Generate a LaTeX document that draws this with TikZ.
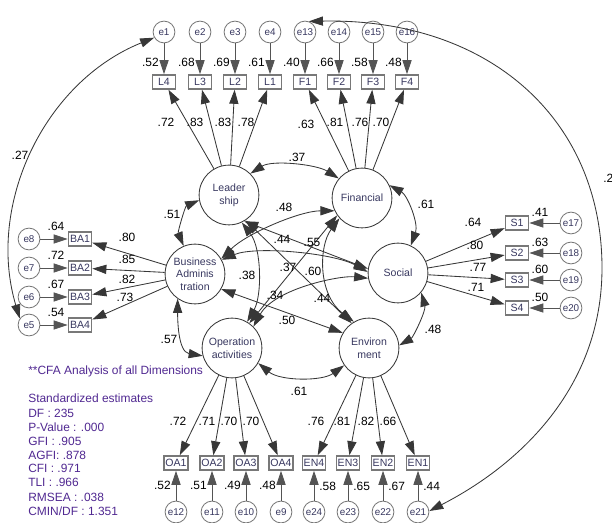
\documentclass[tikz,border=0pt]{standalone}
\usepackage{fontspec}
\setmainfont{Liberation Sans}
\usetikzlibrary{arrows.meta}

\definecolor{lnclr}{RGB}{55,55,55}
\definecolor{bxclr}{RGB}{120,120,120}
\definecolor{txclr}{RGB}{55,55,95}
\definecolor{lgclr}{RGB}{80,40,145}

\begin{document}
\begin{tikzpicture}[
        x=0.025cm, y=-0.025cm,
        >={Triangle[length=10pt,width=6.5pt]},
        lat/.style ={circle, draw=lnclr, line width=0.6pt, minimum size=42.5pt,
                     inner sep=0pt, align=center, text=txclr,
                     font=\fontsize{7.5}{9}\selectfont},
        obs/.style ={draw=bxclr, line width=1pt, minimum width=16.5pt,
                     minimum height=10pt, inner sep=1pt, text=txclr,
                     font=\fontsize{7.5}{9}\selectfont},
        err/.style ={circle, draw=bxclr, line width=0.6pt, minimum size=15.5pt,
                     inner sep=0pt, text=txclr, font=\fontsize{7}{8}\selectfont},
        num/.style ={inner sep=0pt, font=\fontsize{8.5}{10}\selectfont},
        ld/.style  ={->, draw=lnclr, line width=0.6pt},
        er/.style  ={->, draw=bxclr!70!black, line width=0.6pt},
        cv/.style  ={<->, draw=lnclr, line width=0.6pt},
        lgd/.style ={anchor=west, inner sep=0pt, text=lgclr,
                     font=\fontsize{8.5}{10}\selectfont},
    ]
    \useasboundingbox (0,0) rectangle (612,523);

    % ===================== Latent factors =====================
    \node[lat] (L)  at (229,195) {Leader\\ship};
    \node[lat] (F)  at (362,198) {Financial};
    \node[lat] (BA) at (195,274) {Business\\Adminis\\tration};
    \node[lat] (S)  at (398,273) {Social};
    \node[lat] (OA) at (232,348) {Operation\\activities};
    \node[lat] (EN) at (369,348) {Environ\\ment};

    % ===================== Top indicators =====================
    \foreach \b/\e/\x/\r in {L4/e1/164/.52, L3/e2/200/.68, L2/e3/235/.69, L1/e4/270/.61,
                             F1/e13/305/.40, F2/e14/339/.66, F3/e15/373/.58, F4/e16/407/.48}{
        \node[obs] (\b) at (\x,82) {\b};
        \node[err] (\e) at (\x,32) {\e};
        \node[num, anchor=east] (r\b) at (\x-5,62) {\r};
        \draw[er] (\e) -- (\b);
    }
    \foreach \b/\v/\lx/\ly in {L4/.72/166/122, L3/.83/195/122, L2/.83/223/122, L1/.78/246/122}{
        \draw[ld] (L) -- (\b);
        \node[num] (w\b) at (\lx,\ly) {\v};
    }
    \foreach \b/\v/\lx/\ly in {F1/.63/306/124, F2/.81/335/122, F3/.76/360/122, F4/.70/381/122}{
        \draw[ld] (F) -- (\b);
        \node[num] (w\b) at (\lx,\ly) {\v};
    }

    % ===================== Left indicators =====================
    \foreach \b/\e/\y/\r in {BA1/e8/239/.64, BA2/e7/268/.72, BA3/e6/297/.67, BA4/e5/325/.54}{
        \node[obs] (\b) at (80,\y) {\b};
        \node[err] (\e) at (29,\y) {\e};
        \node[num] (r\b) at (56,\y-13) {\r};
        \draw[er] (\e) -- (\b);
    }
    \foreach \b/\v/\lx/\ly in {BA1/.80/127/237, BA2/.85/127/259, BA3/.82/127/279, BA4/.73/125/297}{
        \draw[ld] (BA) -- (\b);
        \node[num] (w\b) at (\lx,\ly) {\v};
    }

    % ===================== Right indicators =====================
    \foreach \b/\e/\y/\r in {S1/e17/223/.41, S2/e18/253/.63, S3/e19/280/.60, S4/e20/308/.50}{
        \node[obs] (\b) at (517,\y) {\b};
        \node[err] (\e) at (571,\y) {\e};
        \node[num] (r\b) at (540,\y-11) {\r};
        \draw[er] (\e) -- (\b);
    }
    \foreach \b/\v/\lx/\ly in {S1/.64/473/222, S2/.80/475/245, S3/.77/478/267, S4/.71/476/287}{
        \draw[ld] (S) -- (\b);
        \node[num] (w\b) at (\lx,\ly) {\v};
    }

    % ===================== Bottom indicators =====================
    \foreach \b/\e/\x/\r in {OA1/e12/176/.52, OA2/e11/212/.51, OA3/e10/246/.49, OA4/e9/281/.48}{
        \node[obs] (\b) at (\x,463) {\b};
        \node[err] (\e) at (\x,512) {\e};
        \node[num, anchor=east] (r\b) at (\x-5,485) {\r};
        \draw[er] (\e) -- (\b);
    }
    \foreach \b/\e/\x/\r in {EN4/e24/314/.58, EN3/e23/348/.65, EN2/e22/383/.67, EN1/e21/418/.44}{
        \node[obs] (\b) at (\x,463) {\b};
        \node[err] (\e) at (\x,512) {\e};
        \node[num, anchor=west] (r\b) at (\x+5,486) {\r};
        \draw[er] (\e) -- (\b);
    }
    \foreach \b/\v/\lx in {OA1/.72/178, OA2/.71/207, OA3/.70/229, OA4/.70/251}{
        \draw[ld] (OA) -- (\b);
        \node[num] (w\b) at (\lx,421) {\v};
    }
    \foreach \b/\v/\lx in {EN4/.76/316, EN3/.81/342, EN2/.82/366, EN1/.66/388}{
        \draw[ld] (EN) -- (\b);
        \node[num] (w\b) at (\lx,421) {\v};
    }

    % ===================== Factor covariances =====================
    \draw[cv] (L.45) .. controls +(22,-14) and +(-22,-14) .. (F.140);
    \draw[cv] (L.190) .. controls +(-14,6) and +(-6,-14) .. (BA.112);
    \draw[cv] (F.25) .. controls +(18,10) and +(8,-22) .. (S.65);
    \draw[cv] (S.320) .. controls +(5,18) and +(14,-8) .. (EN.5);
    \draw[cv] (OA.330) .. controls +(22,18) and +(-22,16) .. (EN.215);
    \draw[cv] (BA.235) .. controls +(0,19) and +(-25,-4) .. (OA.195);
    \draw[cv] (F.205) .. controls +(-35,0) and +(25,-25) .. (BA.30);
    \draw[cv] (BA.28) .. controls +(34,-14) and +(-34,-19) .. (S.178);
    \draw[cv] (L.300) -- (S.172);
    \draw[cv] (L.303) -- (EN.125);
    \draw[cv] (L.295) .. controls +(20,26) and +(15,-26) .. (OA.60);
    \draw[cv] (BA.330) -- (EN.150);
    \draw[cv] (F.215) -- (OA.55);
    \draw[cv] (F.222) .. controls +(-21,28) and +(-36,-27) .. (EN.120);
    \draw[cv] (S.190) .. controls +(-28,-3) and +(21,-38) .. (OA.45);

    \node[num] (c1)  at (297,157) {.37};
    \node[num] (c2)  at (172,214) {.51};
    \node[num] (c3)  at (426,204) {.61};
    \node[num] (c4)  at (433,329) {.48};
    \node[num] (c5)  at (299,391) {.61};
    \node[num] (c6)  at (169,339) {.57};
    \node[num] (c7)  at (284,207) {.48};
    \node[num] (c8)  at (282,239) {.44};
    \node[num] (c9)  at (312,242) {.55};
    \node[num] (c10) at (288,267) {.37};
    \node[num] (c11) at (313,271) {.60};
    \node[num] (c12) at (247,275) {.38};
    \node[num] (c13) at (275,295) {.34};
    \node[num] (c14) at (322,298) {.44};
    \node[num] (c15) at (287,320) {.50};

    % ===================== Error covariances (outer arcs) =====================
    \draw[cv] (e1.210) .. controls (44,82) and (-14,205) .. (e5.145);
    \node[num] (c16) at (20,155) {.27};
    \coordinate (rgt) at (602,268);
    \draw[cv] (e13.70) .. controls (490,18) and (602,120) .. (rgt)
                       .. controls (602,388) and (519,465) .. (e21.5);
    \node[num, anchor=west] (c17) at (603,178) {.2};

    % ===================== Fit summary =====================
    \node[lgd] (lg0) at (28,371) {**CFA Analysis of all Dimensions};
    \node[lgd] (lg1) at (28,398) {Standardized estimates};
    \node[lgd] (lg2) at (28,413) {DF : 235};
    \node[lgd] (lg3) at (28,427) {P-Value : .000};
    \node[lgd] (lg4) at (28,441) {GFI : .905};
    \node[lgd] (lg5) at (28,455) {AGFI: .878};
    \node[lgd] (lg6) at (28,468) {CFI : .971};
    \node[lgd] (lg7) at (28,482) {TLI : .966};
    \node[lgd] (lg8) at (28,497) {RMSEA : .038};
    \node[lgd] (lg9) at (28,511) {CMIN/DF : 1.351};
\end{tikzpicture}
\end{document}
